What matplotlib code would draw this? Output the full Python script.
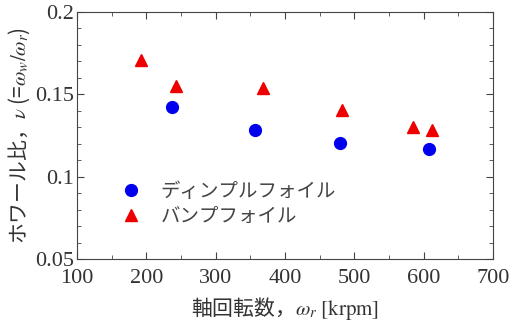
import matplotlib
matplotlib.use("Agg")
import matplotlib.pyplot as plt
from matplotlib.ticker import MultipleLocator

plt.rcParams['mathtext.fontset'] = 'stix'

# data
dimple_speed = [237, 357, 479, 608]
dimple_ratio = [0.1425, 0.1285, 0.1205, 0.117]
bump_speed = [192, 243, 368, 482, 585, 612]
bump_ratio = [0.171, 0.155, 0.154, 0.1405, 0.1300, 0.1285]

jp = ['Noto Sans CJK JP', 'DejaVu Sans']
serif = 'Liberation Serif'

fig = plt.figure(figsize=(5.13, 3.23), dpi=100)
ax = fig.add_axes([0.150, 0.198, 0.811, 0.765])

ax.plot(dimple_speed, dimple_ratio, 'o', color='#0000ee', markersize=8.5,
        linestyle='none', label='ディンプルフォイル')
ax.plot(bump_speed, bump_ratio, '^', color='#ee0000', markersize=8.5,
        linestyle='none', label='バンプフォイル')

ax.set_xlim(100, 700)
ax.set_ylim(0.05, 0.2)
ax.xaxis.set_major_locator(MultipleLocator(100))
ax.xaxis.set_minor_locator(MultipleLocator(50))
ax.yaxis.set_major_locator(MultipleLocator(0.05))
ax.yaxis.set_minor_locator(MultipleLocator(0.01))
ax.tick_params(which='both', direction='in', top=True, right=True, color='#444444')
ax.tick_params(which='major', length=5, pad=2)
ax.tick_params(axis='x', which='major', pad=7)
ax.tick_params(which='minor', length=3)
ax.set_yticks([0.05, 0.1, 0.15, 0.2])
ax.set_yticklabels(['0.05', '0.1', '0.15', '0.2'])
for lab in ax.get_xticklabels() + ax.get_yticklabels():
    lab.set_fontfamily(serif)
    lab.set_fontsize(16)
    lab.set_color('#333333')
for s in ax.spines.values():
    s.set_color('#444444')

ax.set_xlabel('軸回転数，$\\omega_r$ $\\mathrm{[krpm]}$', family=jp, fontsize=15,
              color='#333333', labelpad=5)
ax.set_ylabel('ホワール比，$\\nu$ (=$\\omega_w/\\omega_r$)', family=jp,
              fontsize=15, color='#333333', labelpad=2)

leg = ax.legend(loc='lower left', bbox_to_anchor=(0.065, 0.1), frameon=False,
                prop={'family': jp, 'size': 14}, handletextpad=0.5,
                labelspacing=0.2, borderaxespad=0)
for t in leg.get_texts():
    t.set_color('#444444')

fig.savefig('out.png', dpi=100)
